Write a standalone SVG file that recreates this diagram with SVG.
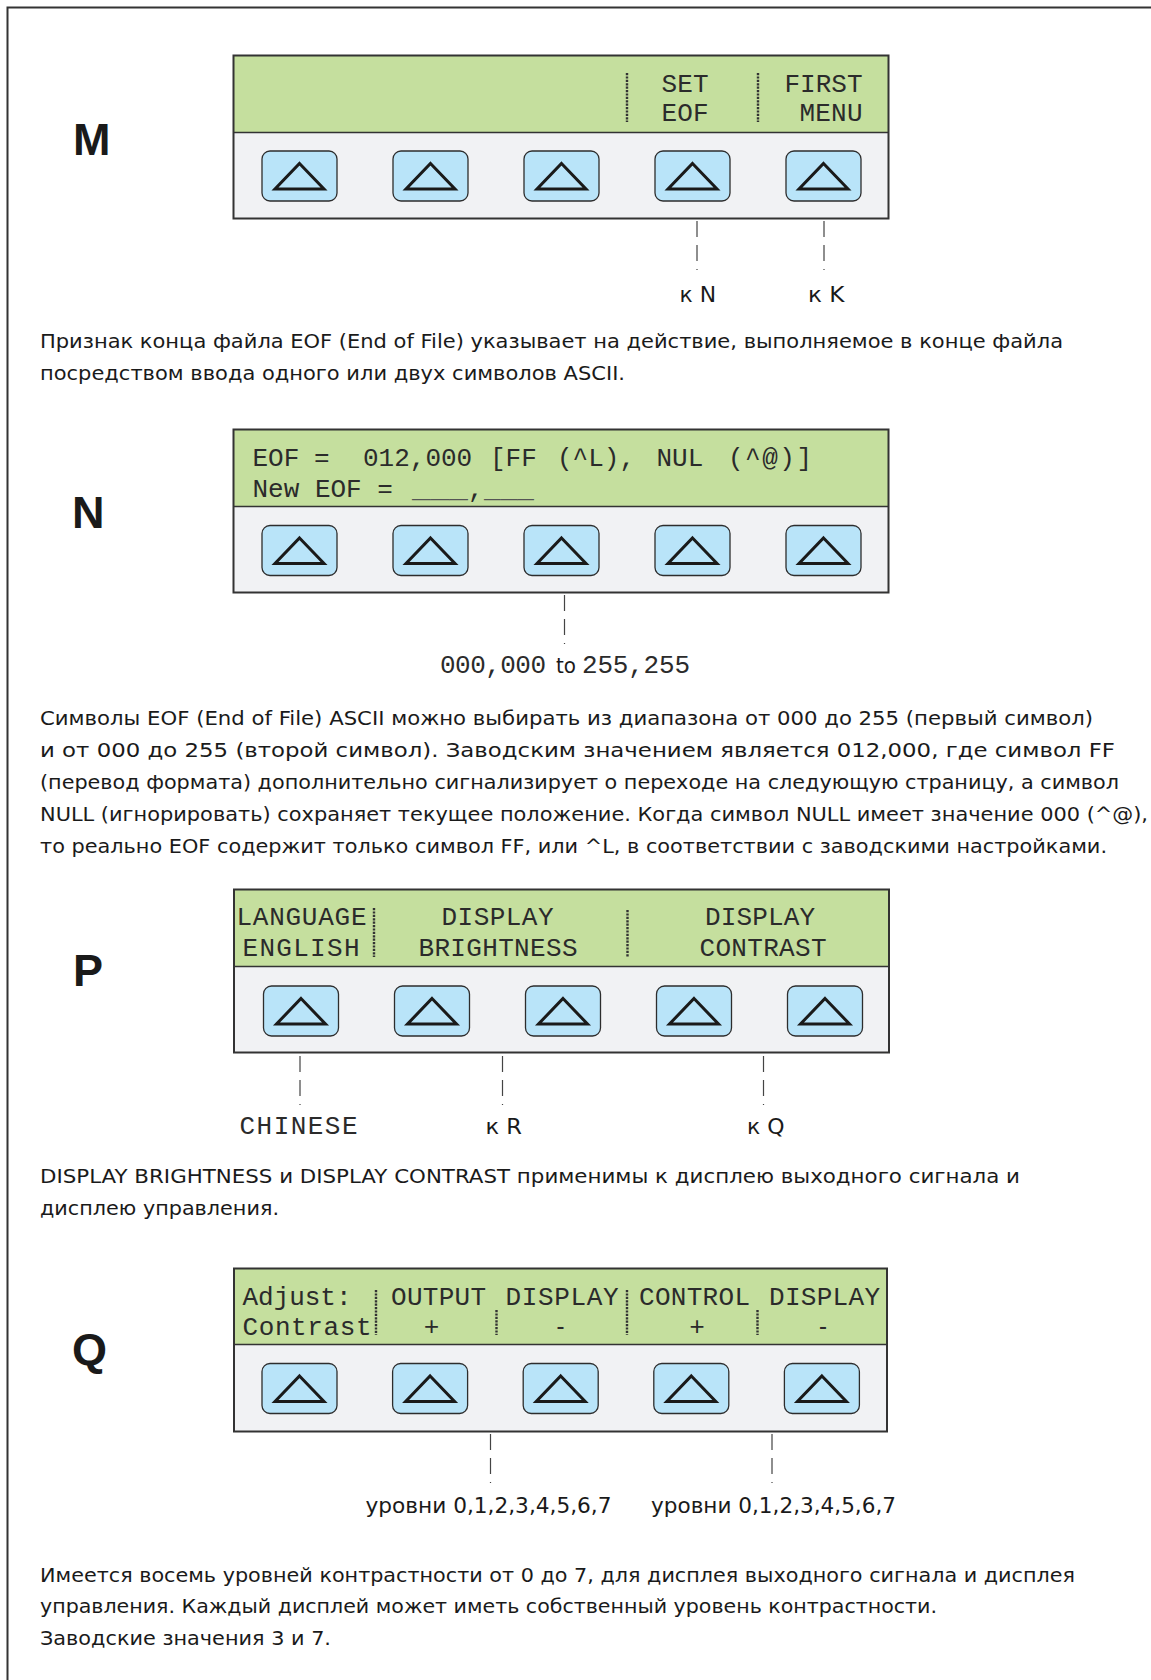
<svg xmlns="http://www.w3.org/2000/svg" xmlns:xlink="http://www.w3.org/1999/xlink" width="1151" height="1680" viewBox="0 0 1151 1680">
  <style>
    .frame { fill: none; stroke: #333; stroke-width: 2; }
    .lcd { fill: #c5df9e; }
    .pad { fill: #f1f2f4; }
    .edge { fill: none; stroke: #333; stroke-width: 2; }
    .sep { stroke: #333; stroke-width: 1.5; }
    .dot { stroke: #333; stroke-width: 2.4; stroke-dasharray: 2.2 1.2; }
    .mono { font-family: "Liberation Mono", "DejaVu Sans Mono", monospace; font-size: 26px; fill: #2b2b2b; }
    .body { font-family: "DejaVu Sans", "Liberation Sans", sans-serif; font-size: 20px; fill: #1a1a1a; }
    .lbl { font-family: "DejaVu Sans", "Liberation Sans", sans-serif; font-size: 21px; fill: #1a1a1a; }
    .big { font-family: "Liberation Sans", Arial, sans-serif; font-size: 45px; font-weight: bold; fill: #1a1a1a; }
    .lead { fill: none; stroke: #444; stroke-width: 1.2; stroke-dasharray: 16 8 16 8 1 100; }
  </style>
  <defs>
    <g id="key">
      <rect x="0" y="0" width="75" height="50" rx="8" fill="#b9e4f9" stroke="#2d2d2d" stroke-width="1.3"/>
      <polygon points="37.5,12.5 62,38 13,38" fill="none" stroke="#1a1a1a" stroke-width="3"/>
    </g>
  </defs>

  <rect x="0" y="0" width="1151" height="1680" fill="#ffffff"/>
  <path class="frame" d="M1151,7.5 H7.5 V1680"/>

  <!-- Panel M -->
  <g id="panel-m">
    <text class="big" x="73" y="155">M</text>
    <rect class="lcd" x="233.5" y="55.5" width="655" height="77"/>
    <rect class="pad" x="233.5" y="132.5" width="655" height="86"/>
    <line class="sep" x1="233.5" y1="132.5" x2="888.5" y2="132.5"/>
    <rect class="edge" x="233.5" y="55.5" width="655" height="163"/>
    <line class="dot" x1="627" y1="73" x2="627" y2="122"/>
    <line class="dot" x1="758" y1="73" x2="758" y2="122"/>
    <text class="mono" x="661.5" y="92" textLength="47" lengthAdjust="spacing">SET</text>
    <text class="mono" x="661.5" y="121" textLength="47" lengthAdjust="spacing">EOF</text>
    <text class="mono" x="784.5" y="92" textLength="78" lengthAdjust="spacing">FIRST</text>
    <text class="mono" x="799.5" y="121" textLength="63" lengthAdjust="spacing">MENU</text>
    <use xlink:href="#key" x="262" y="151"/>
    <use xlink:href="#key" x="393" y="151"/>
    <use xlink:href="#key" x="524" y="151"/>
    <use xlink:href="#key" x="655" y="151"/>
    <use xlink:href="#key" x="786" y="151"/>
    <text class="lbl" x="679.5" y="302" textLength="36.5" lengthAdjust="spacingAndGlyphs">к N</text>
    <text class="lbl" x="808" y="302" textLength="36.5" lengthAdjust="spacingAndGlyphs">к K</text>
  </g>

  <g id="text-m">
    <text class="body" x="40" y="348" textLength="1023" lengthAdjust="spacingAndGlyphs">Признак конца файла EOF (End of File) указывает на действие, выполняемое в конце файла</text>
    <text class="body" x="40" y="380" textLength="585" lengthAdjust="spacingAndGlyphs">посредством ввода одного или двух символов ASCII.</text>
  </g>

  <!-- Panel N -->
  <g id="panel-n">
    <text class="big" x="72" y="528">N</text>
    <rect class="lcd" x="233.5" y="429.5" width="655" height="77"/>
    <rect class="pad" x="233.5" y="506.5" width="655" height="86"/>
    <line class="sep" x1="233.5" y1="506.5" x2="888.5" y2="506.5"/>
    <rect class="edge" x="233.5" y="429.5" width="655" height="163"/>
    <text class="mono" y="466"><tspan x="252.5">EOF</tspan> <tspan x="314">=</tspan> <tspan x="363">012,000</tspan> <tspan x="490">[FF</tspan> <tspan x="557">(^L),</tspan> <tspan x="656.5">NUL</tspan> <tspan x="728" textLength="84" lengthAdjust="spacing">(^@)]</tspan></text>
    <text class="mono" y="497"><tspan x="252.5">New EOF =</tspan> <tspan x="412" textLength="56" lengthAdjust="spacingAndGlyphs" fill="#555">___</tspan><tspan x="468">,</tspan><tspan x="484" textLength="50" lengthAdjust="spacingAndGlyphs" fill="#555">___</tspan></text>
    <use xlink:href="#key" x="262" y="525.5"/>
    <use xlink:href="#key" x="393" y="525.5"/>
    <use xlink:href="#key" x="524" y="525.5"/>
    <use xlink:href="#key" x="655" y="525.5"/>
    <use xlink:href="#key" x="786" y="525.5"/>
    <text y="673"><tspan class="mono" x="440" textLength="106" lengthAdjust="spacing">000,000</tspan><tspan class="lbl" x="556" textLength="20" lengthAdjust="spacingAndGlyphs">to</tspan><tspan class="mono" x="582" textLength="108" lengthAdjust="spacing">255,255</tspan></text>
  </g>

  <g id="text-n">
    <text class="body" x="40" y="725" textLength="1053" lengthAdjust="spacingAndGlyphs">Символы EOF (End of File) ASCII можно выбирать из диапазона от 000 до 255 (первый символ)</text>
    <text class="body" x="40" y="757" textLength="1075" lengthAdjust="spacingAndGlyphs">и от 000 до 255 (второй символ). Заводским значением является 012,000, где символ FF</text>
    <text class="body" x="40" y="789" textLength="1079" lengthAdjust="spacingAndGlyphs">(перевод формата) дополнительно сигнализирует о переходе на следующую страницу, а символ</text>
    <text class="body" x="40" y="821" textLength="1108" lengthAdjust="spacingAndGlyphs">NULL (игнорировать) сохраняет текущее положение. Когда символ NULL имеет значение 000 (^@),</text>
    <text class="body" x="40" y="853" textLength="1067" lengthAdjust="spacingAndGlyphs">то реально EOF содержит только символ FF, или ^L, в соответствии с заводскими настройками.</text>
  </g>

  <!-- Panel P -->
  <g id="panel-p">
    <text class="big" x="73" y="986">P</text>
    <rect class="lcd" x="234" y="889.5" width="655" height="77"/>
    <rect class="pad" x="234" y="966.5" width="655" height="86"/>
    <line class="sep" x1="234" y1="966.5" x2="889" y2="966.5"/>
    <rect class="edge" x="234" y="889.5" width="655" height="163"/>
    <line class="dot" x1="374" y1="908" x2="374" y2="957"/>
    <line class="dot" x1="627.5" y1="910" x2="627.5" y2="957"/>
    <text class="mono" x="236.5" y="925" textLength="130" lengthAdjust="spacing">LANGUAGE</text>
    <text class="mono" x="242.5" y="956" textLength="117" lengthAdjust="spacing">ENGLISH</text>
    <text class="mono" x="441.5" y="925" textLength="112" lengthAdjust="spacing">DISPLAY</text>
    <text class="mono" x="418.5" y="956" textLength="159" lengthAdjust="spacing">BRIGHTNESS</text>
    <text class="mono" x="705" y="925" textLength="110" lengthAdjust="spacing">DISPLAY</text>
    <text class="mono" x="699.5" y="956" textLength="127" lengthAdjust="spacing">CONTRAST</text>
    <use xlink:href="#key" x="263.5" y="986"/>
    <use xlink:href="#key" x="394.5" y="986"/>
    <use xlink:href="#key" x="525.5" y="986"/>
    <use xlink:href="#key" x="656.5" y="986"/>
    <use xlink:href="#key" x="787.5" y="986"/>
    <text class="mono" x="239.5" y="1134" textLength="118" lengthAdjust="spacing">CHINESE</text>
    <text class="lbl" x="485.5" y="1134" textLength="36.5" lengthAdjust="spacingAndGlyphs">к R</text>
    <text class="lbl" x="747" y="1134" textLength="37.5" lengthAdjust="spacingAndGlyphs">к Q</text>
  </g>

  <g id="text-p">
    <text class="body" x="40" y="1183" textLength="980" lengthAdjust="spacingAndGlyphs">DISPLAY BRIGHTNESS и DISPLAY CONTRAST применимы к дисплею выходного сигнала и</text>
    <text class="body" x="40" y="1215" textLength="239" lengthAdjust="spacingAndGlyphs">дисплею управления.</text>
  </g>

  <!-- Panel Q -->
  <g id="panel-q">
    <text class="big" x="72" y="1365">Q</text>
    <rect class="lcd" x="234" y="1268.5" width="653" height="76"/>
    <rect class="pad" x="234" y="1344.5" width="653" height="87"/>
    <line class="sep" x1="234" y1="1344.5" x2="887" y2="1344.5"/>
    <rect class="edge" x="234" y="1268.5" width="653" height="163"/>
    <line class="dot" x1="376" y1="1290" x2="376" y2="1335"/>
    <line class="dot" x1="627" y1="1290" x2="627" y2="1335"/>
    <line class="dot" x1="496.5" y1="1310" x2="496.5" y2="1335"/>
    <line class="dot" x1="757.5" y1="1310" x2="757.5" y2="1335"/>
    <text class="mono" x="242.5" y="1305" textLength="109" lengthAdjust="spacing">Adjust:</text>
    <text class="mono" x="242.5" y="1335" textLength="129" lengthAdjust="spacing">Contrast</text>
    <text class="mono" x="391" y="1305" textLength="95" lengthAdjust="spacing">OUTPUT</text>
    <text class="mono" x="505.5" y="1305" textLength="113" lengthAdjust="spacing">DISPLAY</text>
    <text class="mono" x="639" y="1305" textLength="111" lengthAdjust="spacing">CONTROL</text>
    <text class="mono" x="769" y="1305" textLength="111" lengthAdjust="spacing">DISPLAY</text>
    <text class="mono" x="431.5" y="1335" text-anchor="middle">+</text>
    <text class="mono" x="554" y="1335" textLength="13" lengthAdjust="spacingAndGlyphs">-</text>
    <text class="mono" x="697" y="1335" text-anchor="middle">+</text>
    <text class="mono" x="816.5" y="1335" textLength="13" lengthAdjust="spacingAndGlyphs">-</text>
    <use xlink:href="#key" x="262" y="1363.5"/>
    <use xlink:href="#key" x="392.6" y="1363.5"/>
    <use xlink:href="#key" x="523.2" y="1363.5"/>
    <use xlink:href="#key" x="653.8" y="1363.5"/>
    <use xlink:href="#key" x="784.4" y="1363.5"/>
    <text class="lbl" x="365.5" y="1513" textLength="246" lengthAdjust="spacingAndGlyphs">уровни 0,1,2,3,4,5,6,7</text>
    <text class="lbl" x="651" y="1513" textLength="245" lengthAdjust="spacingAndGlyphs">уровни 0,1,2,3,4,5,6,7</text>
  </g>

  <g id="text-q">
    <text class="body" x="40" y="1582" textLength="1035" lengthAdjust="spacingAndGlyphs">Имеется восемь уровней контрастности от 0 до 7, для дисплея выходного сигнала и дисплея</text>
    <text class="body" x="40" y="1613" textLength="897" lengthAdjust="spacingAndGlyphs">управления. Каждый дисплей может иметь собственный уровень контрастности.</text>
    <text class="body" x="40" y="1645" textLength="291" lengthAdjust="spacingAndGlyphs">Заводские значения 3 и 7.</text>
  </g>

  <!-- Leader lines from keys to their targets -->
  <g id="connectors">
    <line class="lead" x1="697" y1="221" x2="697" y2="271"/>
    <line class="lead" x1="824" y1="221" x2="824" y2="271"/>
    <line class="lead" x1="564.5" y1="595" x2="564.5" y2="645"/>
    <line class="lead" x1="300" y1="1056" x2="300" y2="1106"/>
    <line class="lead" x1="502.5" y1="1056" x2="502.5" y2="1106"/>
    <line class="lead" x1="763.5" y1="1056" x2="763.5" y2="1106"/>
    <line class="lead" x1="490.5" y1="1434" x2="490.5" y2="1484"/>
    <line class="lead" x1="772" y1="1434" x2="772" y2="1484"/>
  </g>
</svg>
